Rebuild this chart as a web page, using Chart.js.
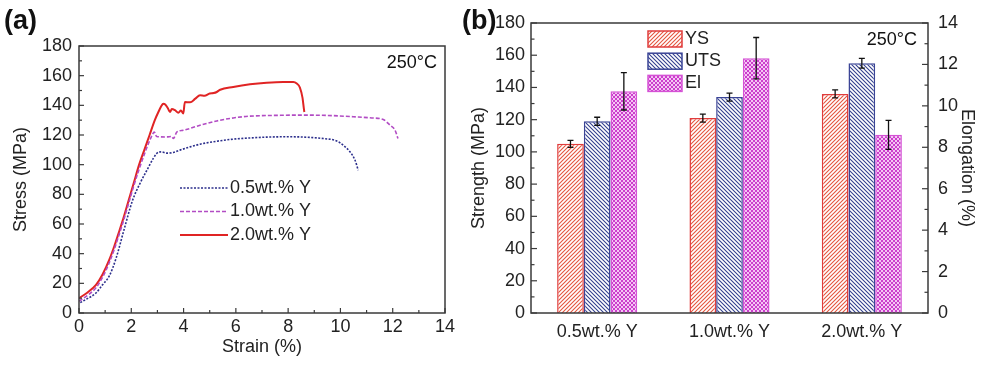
<!DOCTYPE html>
<html>
<head>
<meta charset="utf-8">
<script src="https://cdn.jsdelivr.net/npm/chart.js@4.4.1/dist/chart.umd.min.js"></script>
<style>
    body { margin: 0; background: #fff; width: 983px; height: 369px; overflow: hidden; position: relative; }
    #wrapA { position: absolute; left: 0; top: 0; width: 460px; height: 369px; }
    #wrapB { position: absolute; left: 455px; top: 0; width: 528px; height: 369px; }
</style>
</head>
<body>
<div id="wrapA"><canvas id="curveChart" width="460" height="369"></canvas></div>
<div id="wrapB"><canvas id="barChart" width="528" height="369"></canvas></div>
<script>
// (a) stress-strain curves
const strain05 = [0.05, 0.3, 0.65, 0.9, 1.16, 1.42, 1.72, 2.05, 2.35, 2.65, 2.85, 2.97, 3.05, 3.16, 3.35, 3.61, 3.86, 4.25, 4.63, 5.27, 5.9, 6.54, 7.2, 8.07, 8.45, 9.0, 9.35, 9.86, 10.11, 10.37, 10.56, 10.68];
const stress05 = [7, 9.5, 13.5, 19, 25, 37, 56, 76, 88, 98, 104.5, 107.5, 108.5, 108.6, 107.8, 108.2, 109.8, 112, 113.8, 115.8, 117.2, 118, 118.6, 118.8, 118.7, 118.2, 117.6, 116, 113, 108.6, 103, 96.3];

const strain10 = [0, 0.3, 0.65, 0.9, 1.16, 1.35, 1.5, 1.7, 1.9, 2.1, 2.3, 2.5, 2.65, 2.8, 2.88, 2.97, 3.35, 3.55, 3.61, 3.74, 3.99, 4.63, 5.27, 5.9, 6.54, 7.81, 8.4, 9.5, 10.6, 11.2, 11.64, 11.9, 12.09, 12.2];
const stress10 = [8, 11.5, 17, 24, 34, 43, 51, 62, 74, 86, 97, 107, 114, 120, 122, 119, 118.7, 119, 117.6, 122, 123.2, 126.6, 129.5, 131.5, 132.7, 133.3, 133.4, 133.2, 132.2, 131.5, 130.4, 126.6, 123.2, 117.6];

const strain20 = [0, 0.3, 0.65, 0.9, 1.16, 1.35, 1.5, 1.7, 1.9, 2.1, 2.3, 2.5, 2.7, 2.9, 3.05, 3.15, 3.22, 3.3, 3.4, 3.48, 3.55, 3.67, 3.8, 3.9, 3.99, 4.05, 4.25, 4.45, 4.63, 4.8, 5.0, 5.15, 5.27, 5.4, 5.9, 6.54, 7.18, 7.81, 8.2, 8.33, 8.45, 8.55, 8.6, 8.62];
const stress20 = [10, 13.5, 19, 26, 36, 45, 53, 64, 76, 88, 100, 110, 120, 130, 136, 139.5, 141, 140.5, 138, 135.5, 137.5, 136.7, 135, 136.5, 134.5, 142.3, 142, 144.5, 146.8, 146.5, 148, 148.3, 149, 150.5, 152.4, 154.2, 155.3, 155.8, 155.8, 154.7, 152, 145, 138, 135.5];

// (b) strength and elongation bars
const barCategories = ['0.5wt.% Y', '1.0wt.% Y', '2.0wt.% Y'];
const ysValues = [105, 121, 136];
const ysErrors = [2.2, 2.5, 2.5];
const utsValues = [119, 134, 155];
const utsErrors = [2.5, 2.5, 3];
const elValues = [10.7, 12.3, 8.6];
const elErrors = [0.9, 1.0, 0.7];

const FONT = 'Arial, "Liberation Sans", sans-serif';
Chart.defaults.font.family = FONT;
Chart.defaults.font.size = 18;
Chart.defaults.color = '#222';

function toPoints(xs, ys) {
    return xs.map((x, i) => ({ x: x, y: ys[i] }));
}

// box round the plot + inward major/minor ticks
const framePlugin = {
    id: 'frame',
    afterDatasetsDraw(chart, args, opts) {
        const { ctx, chartArea: a } = chart;
        ctx.save();
        ctx.strokeStyle = '#3a3a3a';
        ctx.lineWidth = 1.5;
        ctx.strokeRect(a.left, a.top, a.right - a.left, a.bottom - a.top);
        ctx.lineWidth = 1.2;
        const drawTick = (scale, v, len) => {
            const p = scale.getPixelForValue(v);
            ctx.beginPath();
            if (scale.isHorizontal()) {
                ctx.moveTo(p, a.bottom); ctx.lineTo(p, a.bottom - len);
            } else if (scale.position === 'left') {
                ctx.moveTo(a.left, p); ctx.lineTo(a.left + len, p);
            } else {
                ctx.moveTo(a.right, p); ctx.lineTo(a.right - len, p);
            }
            ctx.stroke();
        };
        (opts.axes || []).forEach(id => {
            const scale = chart.scales[id];
            const ticks = scale.ticks;
            for (let i = 0; i < ticks.length; i++) {
                drawTick(scale, ticks[i].value, opts.major);
                if (i < ticks.length - 1) {
                    drawTick(scale, (ticks[i].value + ticks[i + 1].value) / 2, opts.minor);
                }
            }
        });
        ctx.restore();
    }
};

// panel letter and temperature note
const panelText = {
    id: 'panelText',
    afterDraw(chart, args, opts) {
        const { ctx, chartArea: a } = chart;
        ctx.save();
        ctx.fillStyle = '#111';
        ctx.textBaseline = 'middle';
        ctx.font = 'bold 27px ' + FONT;
        ctx.fillText(opts.letter, opts.letterX, 22);
        ctx.font = '18px ' + FONT;
        ctx.textAlign = 'right';
        ctx.fillText('250\u00B0C', a.right - opts.tempRight, a.top + 17);
        ctx.restore();
    }
};

// legend for the curves, drawn inside the plot
const curveLegend = {
    id: 'curveLegend',
    afterDraw(chart) {
        const { ctx, chartArea: a } = chart;
        ctx.save();
        ctx.font = '18px ' + FONT;
        ctx.textBaseline = 'middle';
        chart.data.datasets.forEach((ds, i) => {
            const y = a.top + 142 + i * 23.5;
            const x0 = a.left + 101;
            ctx.strokeStyle = ds.borderColor;
            ctx.lineWidth = ds.borderWidth;
            ctx.setLineDash(ds.borderDash || []);
            ctx.beginPath();
            ctx.moveTo(x0, y);
            ctx.lineTo(x0 + 48, y);
            ctx.stroke();
            ctx.setLineDash([]);
            ctx.fillStyle = '#222';
            ctx.fillText(ds.label, x0 + 50, y);
        });
        ctx.restore();
    }
};

// error bars on top of the bars
const errorBars = {
    id: 'errorBars',
    afterDatasetsDraw(chart) {
        const ctx = chart.ctx;
        ctx.save();
        ctx.strokeStyle = '#111';
        ctx.lineWidth = 1.3;
        chart.data.datasets.forEach((ds, i) => {
            const meta = chart.getDatasetMeta(i);
            const scale = chart.scales[meta.yAxisID];
            meta.data.forEach((bar, j) => {
                const v = ds.data[j], e = ds.errors[j];
                const top = scale.getPixelForValue(v + e);
                const bot = scale.getPixelForValue(v - e);
                ctx.beginPath();
                ctx.moveTo(bar.x, top); ctx.lineTo(bar.x, bot);
                ctx.moveTo(bar.x - 3, top); ctx.lineTo(bar.x + 3, top);
                ctx.moveTo(bar.x - 3, bot); ctx.lineTo(bar.x + 3, bot);
                ctx.stroke();
            });
        });
        ctx.restore();
    }
};

// legend for the bars
const barLegend = {
    id: 'barLegend',
    afterDraw(chart) {
        const { ctx, chartArea: a } = chart;
        ctx.save();
        ctx.font = '18px ' + FONT;
        ctx.textBaseline = 'middle';
        chart.data.datasets.forEach((ds, i) => {
            const y = a.top + 16 + i * 22.2;
            const x0 = a.left + 117;
            ctx.fillStyle = ds.backgroundColor;
            ctx.fillRect(x0, y - 8, 34, 16);
            ctx.strokeStyle = ds.borderColor;
            ctx.lineWidth = 1.5;
            ctx.strokeRect(x0, y - 8, 34, 16);
            ctx.fillStyle = '#222';
            ctx.fillText(ds.label, x0 + 37, y);
        });
        ctx.restore();
    }
};

function makePattern(target, kind, color) {
    const c = document.createElement('canvas');
    const s = 4;
    c.width = c.height = s;
    const g = c.getContext('2d');
    if (kind === 'check') {
        g.fillStyle = color;
        g.fillRect(0, 0, s, s);
        g.fillStyle = '#f4c6f4';
        g.fillRect(0, 0, 2, 2);
        g.fillRect(2, 2, 2, 2);
    } else {
        g.fillStyle = '#fff';
        g.fillRect(0, 0, s, s);
        g.strokeStyle = color;
        g.lineWidth = 1.1;
        g.beginPath();
        if (kind === 'fwd') {
            g.moveTo(-1, s + 1); g.lineTo(s + 1, -1);
            g.moveTo(-1, 1); g.lineTo(1, -1);
            g.moveTo(s - 1, s + 1); g.lineTo(s + 1, s - 1);
        } else {
            g.moveTo(-1, -1); g.lineTo(s + 1, s + 1);
            g.moveTo(-1, s - 1); g.lineTo(1, s + 1);
            g.moveTo(s - 1, -1); g.lineTo(s + 1, 1);
        }
        g.stroke();
    }
    return target.createPattern(c, 'repeat');
}

// ---------- panel (a)
const ctxA = document.getElementById('curveChart').getContext('2d');
new Chart(ctxA, {
    type: 'line',
    data: {
        datasets: [{
            label: '0.5wt.% Y',
            data: toPoints(strain05, stress05),
            borderColor: '#2c2f8c',
            borderWidth: 1.6,
            borderDash: [2, 1.5]
        }, {
            label: '1.0wt.% Y',
            data: toPoints(strain10, stress10),
            borderColor: '#b24cc4',
            borderWidth: 1.6,
            borderDash: [4, 2]
        }, {
            label: '2.0wt.% Y',
            data: toPoints(strain20, stress20),
            borderColor: '#e02424',
            borderWidth: 2
        }]
    },
    options: {
        responsive: false,
        animation: false,
        events: [],
        elements: { point: { radius: 0 }, line: { cubicInterpolationMode: 'monotone', fill: false } },
        layout: { padding: { top: 46, right: 15, left: 0, bottom: 0 } },
        plugins: {
            legend: { display: false },
            tooltip: { enabled: false },
            frame: { axes: ['x', 'y'], major: 5, minor: 3 },
            panelText: { letter: '(a)', letterX: 4, tempRight: 8 }
        },
        scales: {
            x: {
                type: 'linear',
                min: 0, max: 14,
                grid: { display: false, drawTicks: false },
                border: { display: false },
                ticks: { stepSize: 2, padding: 3, maxRotation: 0 },
                title: { display: true, text: 'Strain (%)', padding: { top: 0, bottom: 11 } },
                afterFit: s => { s.height = 56; }
            },
            y: {
                min: 0, max: 180,
                grid: { display: false, drawTicks: false },
                border: { display: false },
                ticks: { stepSize: 20, padding: 7 },
                title: { display: true, text: 'Stress (MPa)', padding: { top: 10, bottom: 0 } },
                afterFit: s => { s.width = 79; }
            }
        }
    },
    plugins: [framePlugin, panelText, curveLegend]
});

// ---------- panel (b)
const ctxB = document.getElementById('barChart').getContext('2d');
new Chart(ctxB, {
    type: 'bar',
    data: {
        labels: barCategories,
        datasets: [{
            label: 'YS',
            data: ysValues,
            errors: ysErrors,
            yAxisID: 'y',
            backgroundColor: makePattern(ctxB, 'fwd', '#e4553f'),
            borderColor: '#e03c3c',
            borderWidth: 1.5
        }, {
            label: 'UTS',
            data: utsValues,
            errors: utsErrors,
            yAxisID: 'y',
            backgroundColor: makePattern(ctxB, 'back', '#34408f'),
            borderColor: '#3a4496',
            borderWidth: 1.5
        }, {
            label: 'El',
            data: elValues,
            errors: elErrors,
            yAxisID: 'y2',
            backgroundColor: makePattern(ctxB, 'check', '#cc3ccc'),
            borderColor: '#d552d5',
            borderWidth: 1.5
        }]
    },
    options: {
        responsive: false,
        animation: false,
        events: [],
        categoryPercentage: 0.605,
        barPercentage: 1.0,
        layout: { padding: { top: 23, right: 0, left: 0, bottom: 0 } },
        plugins: {
            legend: { display: false },
            tooltip: { enabled: false },
            frame: { axes: ['y', 'y2'], major: 6, minor: 3.5 },
            panelText: { letter: '(b)', letterX: 7, tempRight: 11 }
        },
        scales: {
            x: {
                grid: { display: false, drawTicks: false },
                border: { display: false },
                ticks: { padding: 8, maxRotation: 0 },
                afterFit: s => { s.height = 56; }
            },
            y: {
                position: 'left',
                min: 0, max: 180,
                grid: { display: false, drawTicks: false },
                border: { display: false },
                ticks: { stepSize: 20, padding: 6 },
                title: { display: true, text: 'Strength (MPa)', padding: { top: 13, bottom: 0 } },
                afterFit: s => { s.width = 76; }
            },
            y2: {
                position: 'right',
                min: 0, max: 14,
                grid: { display: false, drawTicks: false },
                border: { display: false },
                ticks: { stepSize: 2, padding: 10 },
                title: { display: true, text: 'Elongation (%)', padding: { top: 5, bottom: 0 } },
                afterFit: s => { s.width = 55; }
            }
        }
    },
    plugins: [framePlugin, errorBars, panelText, barLegend]
});
</script>
</body>
</html>
